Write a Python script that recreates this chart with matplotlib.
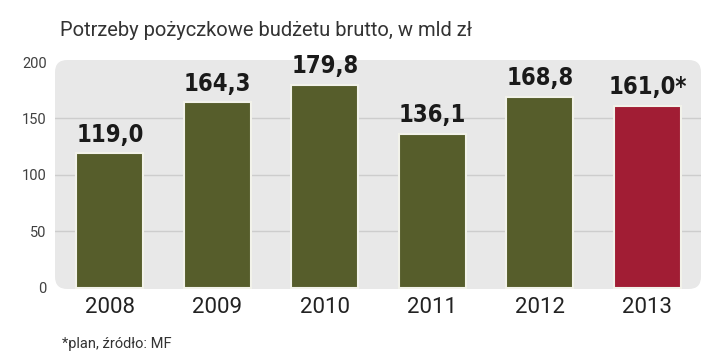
import matplotlib.pyplot as plt
from matplotlib.patches import FancyBboxPatch

years = ["2008", "2009", "2010", "2011", "2012", "2013"]
values = [119.0, 164.3, 179.8, 136.1, 168.8, 161.0]
labels = ["119,0", "164,3", "179,8", "136,1", "168,8", "161,0*"]
colors = ["#565d2b", "#565d2b", "#565d2b", "#565d2b", "#565d2b", "#a11d34"]
yticks = [0, 50, 100, 150, 200]

W, H = 720, 362
fig = plt.figure(figsize=(7.2, 3.62), dpi=100)

# axes placed in pixel terms: panel from x=55..701, y=60..289
left, right, top, bottom = 55, 701, 60, 289
ax = fig.add_axes([left / W, 1 - bottom / H, (right - left) / W, (bottom - top) / H])
ax.set_xlim(-0.51, 5.5)
ax.set_ylim(-1, 201.8)
ax.patch.set_visible(False)

# rounded grey panel behind the bars (radius ~12 px)
panel = FancyBboxPatch((0, 0), 1, 1, boxstyle="round,pad=0,rounding_size=0.019",
                       transform=ax.transAxes, facecolor="#e8e8e8", edgecolor="none",
                       mutation_aspect=(right - left) / (bottom - top), zorder=0)
ax.add_patch(panel)

for y in yticks[1:4]:
    ax.axhline(y, color="#cdcdcd", linewidth=1.0, zorder=1)

x = range(len(years))
ax.bar(x, values, width=0.62, color=colors, edgecolor="#f2f2ea", linewidth=1.5, zorder=2)

for i, (v, lab) in enumerate(zip(values, labels)):
    ax.annotate(lab, (i, v), xytext=(0, 8.5), textcoords="offset points", ha="center", va="baseline",
                fontsize=17, fontweight="bold", color="#1a1a1a", family="DejaVu Sans",
                fontstretch="condensed", zorder=3)

for side in ax.spines.values():
    side.set_visible(False)
ax.set_yticks(yticks)
ax.set_yticklabels([str(t) for t in yticks], fontsize=10.5, color="#404040", family="Roboto")
ax.tick_params(axis="y", length=0, pad=6)
ax.set_xticks(list(x))
ax.set_xticklabels(years, fontsize=16, color="#222222", family="Roboto")
ax.tick_params(axis="x", length=0, pad=6)

fig.text(60 / W, 1 - 30 / H, "Potrzeby pożyczkowe budżetu brutto, w mld zł", fontsize=14.5,
         color="#333333", family="Roboto", va="center", ha="left")
fig.text(62 / W, 1 - 344 / H, "*plan, źródło: MF", fontsize=10.5, color="#333333",
         family="Roboto", va="center", ha="left")

fig.savefig("out.png", dpi=100, facecolor="white")
